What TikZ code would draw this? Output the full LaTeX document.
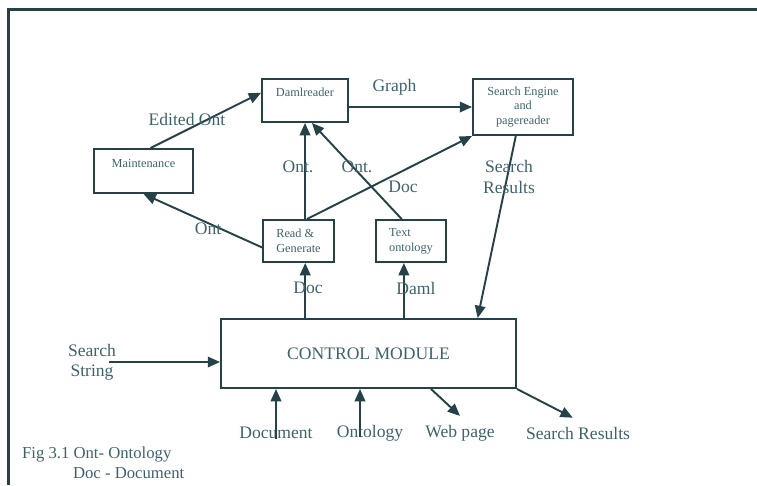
\documentclass[tikz,border=0pt]{standalone}
\usepackage{fontspec}
\setmainfont{Liberation Serif}
\usepackage{tikz}
\usetikzlibrary{arrows.meta}
\definecolor{linec}{RGB}{38,66,72}
\definecolor{textc}{RGB}{62,98,108}

\begin{document}
\begin{tikzpicture}[x=0.02cm,y=-0.02cm,
  box/.style={draw=linec,line width=1.1pt,align=center,text=textc,inner sep=1pt,font=\fontsize{7}{8.3}\selectfont},
  toptext/.style={text height=5pt,text depth=9pt},
  lab/.style={text=textc,align=center,inner sep=1pt,font=\fontsize{10}{11.5}\selectfont},
  arr/.style={draw=linec,line width=1.1pt,-{Triangle[length=7pt,width=6pt]}}]
\useasboundingbox (0,0) rectangle (757,485);
% page frame
\draw[linec,line width=1.2pt] (8.5,485) -- (8.5,9.5) -- (757,9.5);

% boxes
\node[box,toptext,minimum width=1.72cm,minimum height=0.86cm] (dam) at (305,100.5) {Damlreader};
\node[box,toptext,minimum width=1.98cm,minimum height=0.88cm] (maint) at (143.5,171) {Maintenance};
\node[box,minimum width=2cm,minimum height=1.12cm] (search) at (523,107) {Search Engine\\and\\pagereader};
\node[box,align=left,minimum width=1.42cm,minimum height=0.84cm] (readgen) at (298.5,241) {Read \&\\Generate};
\node[box,align=left,minimum width=1.4cm,minimum height=0.84cm] (textont) at (411,241) {Text\\ontology};
\node[box,font=\fontsize{10}{11}\selectfont,minimum width=5.9cm,minimum height=1.38cm] (ctrl) at (368.5,353.5) {CONTROL MODULE};

% outside texts
\node[lab] (ss) at (92,362) {Search\\String};
\node[lab] (doc) at (276,433) {Document};
\node[lab] (ont) at (370,433) {Ontology};
\node[lab] (web) at (460,433) {Web page};
\node[lab] (res) at (578,433) {Search Results};
\coordinate (ontin) at ([xshift=-0.2cm]ont.base);

% connectors
\draw[arr] (maint.73) -- (dam.170) node[lab,pos=0.33,above=1pt] {Edited Ont};
\draw[arr] (search.west -| dam.east) -- (search.west) node[lab,pos=0.37,above=5pt] {Graph};
\draw[arr] (readgen.north -| dam.south) -- (dam.south);
\draw[arr] (textont.113) -- (dam.-73);
\draw[arr] (readgen.69) -- (search.south west);
\draw[arr] (readgen.190) -- (maint.south);
\draw[arr] (ctrl.north -| readgen.-73) -- (readgen.-73);
\draw[arr] (ctrl.north -| textont.-108) -- (textont.-108);
\draw[arr] (search.-104) -- (ctrl.18);
\draw[arr] ([xshift=-5pt]ss.east) -- (ss.east -| ctrl.west);
\draw[arr] (doc.base) -- (doc.base |- ctrl.south);
\draw[arr] (ontin) -- (ontin |- ctrl.south);
\draw[arr] ([xshift=1.25cm]ctrl.south) -- ([yshift=4pt]web.north);
\draw[arr] (ctrl.south east) -- ([xshift=-3pt,yshift=4pt]res.north);

% labels on connectors
\node[lab] (ont1) at (298,167) {Ont.};
\node[lab] (ont2) at (357,167) {Ont.};
\node[lab] (doc1) at (403,187) {Doc};
\node[lab] (ont3) at (208,229) {Ont};
\node[lab] (doc2) at (308,288) {Doc};
\node[lab] (daml) at (416,288) {Daml};
\node[lab] (sres) at (509,177) {Search\\Results};
\node[lab,align=left,font=\fontsize{9.5}{11.5}\selectfont,anchor=west] (cap) at (20,463) {Fig 3.1 Ont- Ontology\\\hspace{29pt}Doc - Document};
\end{tikzpicture}
\end{document}
